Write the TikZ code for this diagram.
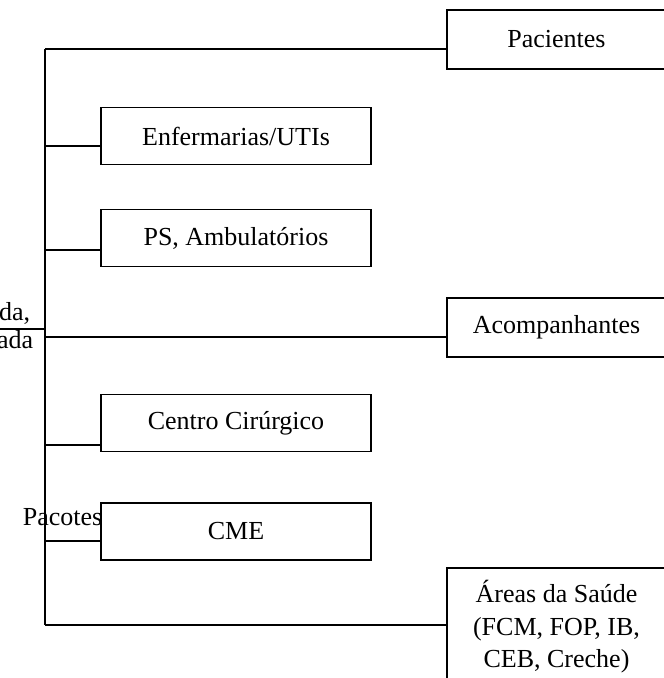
\documentclass[tikz,border=0pt]{standalone}
\usepackage{fontspec}
\setmainfont{Liberation Serif}
\usepackage{tikz}
\usetikzlibrary{positioning}

\begin{document}
\begin{tikzpicture}[x=1pt, y=-1pt, line width=1.6pt,
  every node/.style={font=\fontsize{26}{32.5}\selectfont},
  box/.style={draw, rectangle, line width=1.6pt, inner sep=0pt, align=center},
  inner/.style={box, minimum width=270pt, minimum height=57pt},
  outer/.style={box, minimum width=219pt, minimum height=59pt}]
  \useasboundingbox (0,0) rectangle (664,678);
  \clip (0,0) rectangle (664,678);

  \node (pac) [outer] at (556.5,39.5) {Pacientes};
  \node (enf) [inner] at (236,136) {Enfermarias/UTIs};
  \node (ps) [inner] at (236,238) {PS, Ambulatórios};
  \node (acomp) [outer] at (556.5,327.5) {Acompanhantes};
  \node (cc) [inner] at (236,423) {Centro Cirúrgico};
  \node (cme) [inner] at (236,531.5) {CME};
  \node (areas) [outer, minimum height=118pt] at (556.5,627) {Áreas da Saúde\\(FCM, FOP, IB,\\CEB, Creche)};

  \node (roupa1) [anchor=base east, inner sep=0pt] at (31,320) {da,};
  \node (roupa2) [anchor=base east, inner sep=0pt] at (34,348) {ada};
  \node (pacotes) [anchor=base west, inner sep=0pt] at (22,525) {Pacotes};

  \coordinate (t1) at (45,49);
  \coordinate (t2) at (45,146);
  \coordinate (t3) at (45,250);
  \coordinate (t4) at (45,329);
  \coordinate (t5) at (45,337);
  \coordinate (t6) at (45,445);
  \coordinate (t7) at (45,541);
  \coordinate (t8) at (45,625);
  \coordinate (in) at (0,329);

  \draw (t1) -- (t8);
  \draw (t1) -- (t1 -| pac.west);
  \draw (t2) -- (t2 -| enf.west);
  \draw (t3) -- (t3 -| ps.west);
  \draw (in) -- (t4);
  \draw (t5) -- (t5 -| acomp.west);
  \draw (t6) -- (t6 -| cc.west);
  \draw (t7) -- (t7 -| cme.west);
  \draw (t8) -- (t8 -| areas.west);
\end{tikzpicture}
\end{document}
